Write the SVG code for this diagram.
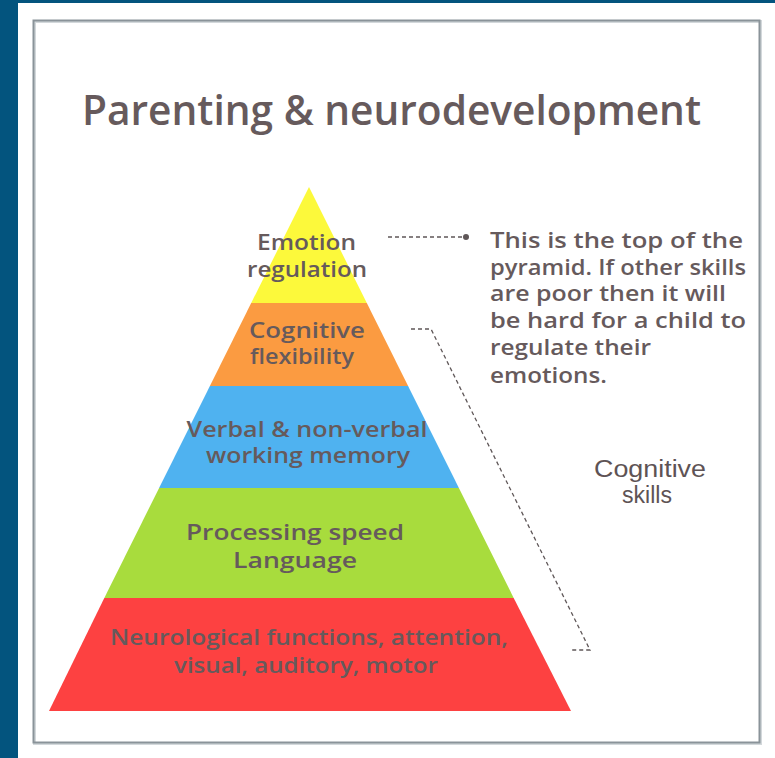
<svg xmlns="http://www.w3.org/2000/svg" width="775" height="758" viewBox="0 0 775 758">
  <style>
    .txt { font-family: "Open Sans", "Noto Sans", sans-serif; fill: #665a5c; font-weight: 600; }
    .mid { text-anchor: middle; }
    .dash { fill: none; stroke: #5f5758; stroke-width: 1.3; stroke-dasharray: 4 3; }
  </style>

  <!-- page background and card -->
  <rect x="0" y="0" width="775" height="758" fill="#03547e"/>
  <rect x="18" y="3" width="757" height="755" fill="#ffffff"/>
  <rect x="34.5" y="21.5" width="726" height="722" fill="none" stroke="#d3d8db" stroke-width="3"/>
  <rect x="33.5" y="20.5" width="726" height="722" fill="none" stroke="#8a9399" stroke-width="2"/>

  <g id="title">
    <text class="txt" x="82" y="125" font-size="42" font-weight="500" textLength="619" lengthAdjust="spacingAndGlyphs">Parenting &amp; neurodevelopment</text>
  </g>

  <!-- pyramid levels, bottom to top -->
  <g id="level-neurological">
    <polygon points="104.3,598 513.7,598 571,711 49,711" fill="#fd4141"/>
    <text class="txt mid" x="309" y="645" font-size="21" textLength="398" lengthAdjust="spacingAndGlyphs">Neurological functions, attention,</text>
    <text class="txt mid" x="306" y="673" font-size="21" textLength="264" lengthAdjust="spacingAndGlyphs">visual, auditory, motor</text>
  </g>

  <g id="level-processing">
    <polygon points="159.1,488 458.9,488 513.7,598 104.3,598" fill="#a8dc3d"/>
    <text class="txt mid" x="295" y="540" font-size="21" textLength="218" lengthAdjust="spacingAndGlyphs">Processing speed</text>
    <text class="txt mid" x="295" y="568" font-size="21" textLength="124" lengthAdjust="spacingAndGlyphs">Language</text>
  </g>

  <g id="level-memory">
    <polygon points="209.9,386 408.1,386 458.9,488 159.1,488" fill="#4fb2f0"/>
    <text class="txt mid" x="307" y="437" font-size="21" textLength="241" lengthAdjust="spacingAndGlyphs">Verbal &amp; non-verbal</text>
    <text class="txt mid" x="308" y="463" font-size="21" textLength="204" lengthAdjust="spacingAndGlyphs">working memory</text>
  </g>

  <g id="level-flexibility">
    <polygon points="251.2,303 366.8,303 408.1,386 209.9,386" fill="#fb9b41"/>
    <text class="txt mid" x="307" y="338" font-size="21" textLength="116" lengthAdjust="spacingAndGlyphs">Cognitive</text>
    <text class="txt mid" x="302" y="364" font-size="21" textLength="104" lengthAdjust="spacingAndGlyphs">flexibility</text>
  </g>

  <g id="level-emotion">
    <polygon points="309,187 366.8,303 251.2,303" fill="#fcf93b"/>
    <text class="txt mid" x="306.5" y="250" font-size="21" textLength="99" lengthAdjust="spacingAndGlyphs">Emotion</text>
    <text class="txt mid" x="307" y="277" font-size="21" textLength="120" lengthAdjust="spacingAndGlyphs">regulation</text>
  </g>

  <g id="note-top">
    <text class="txt" x="490" y="248" font-size="21" textLength="253" lengthAdjust="spacingAndGlyphs">This is the top of the</text>
    <text class="txt" x="490" y="275" font-size="21" textLength="256" lengthAdjust="spacingAndGlyphs">pyramid. If other skills</text>
    <text class="txt" x="490" y="301" font-size="21" textLength="236" lengthAdjust="spacingAndGlyphs">are poor then it will</text>
    <text class="txt" x="490" y="328" font-size="21" textLength="256" lengthAdjust="spacingAndGlyphs">be hard for a child to</text>
    <text class="txt" x="490" y="355" font-size="21" textLength="161" lengthAdjust="spacingAndGlyphs">regulate their</text>
    <text class="txt" x="490" y="383" font-size="21" textLength="117" lengthAdjust="spacingAndGlyphs">emotions.</text>
  </g>

  <g id="label-cognitive">
    <text x="650" y="477" font-size="23" text-anchor="middle" font-family="'Liberation Sans', Arial, sans-serif" fill="#5e5355" textLength="112" lengthAdjust="spacingAndGlyphs">Cognitive</text>
    <text x="647" y="503" font-size="23" text-anchor="middle" font-family="'Liberation Sans', Arial, sans-serif" fill="#5e5355" textLength="50" lengthAdjust="spacingAndGlyphs">skills</text>
  </g>

  <g id="connectors">
    <line class="dash" x1="388" y1="237" x2="464" y2="237"/>
    <circle cx="466" cy="237" r="3" fill="#5f5758"/>
    <polyline class="dash" points="411,329 431,329 590,650 572,650"/>
  </g>
</svg>
